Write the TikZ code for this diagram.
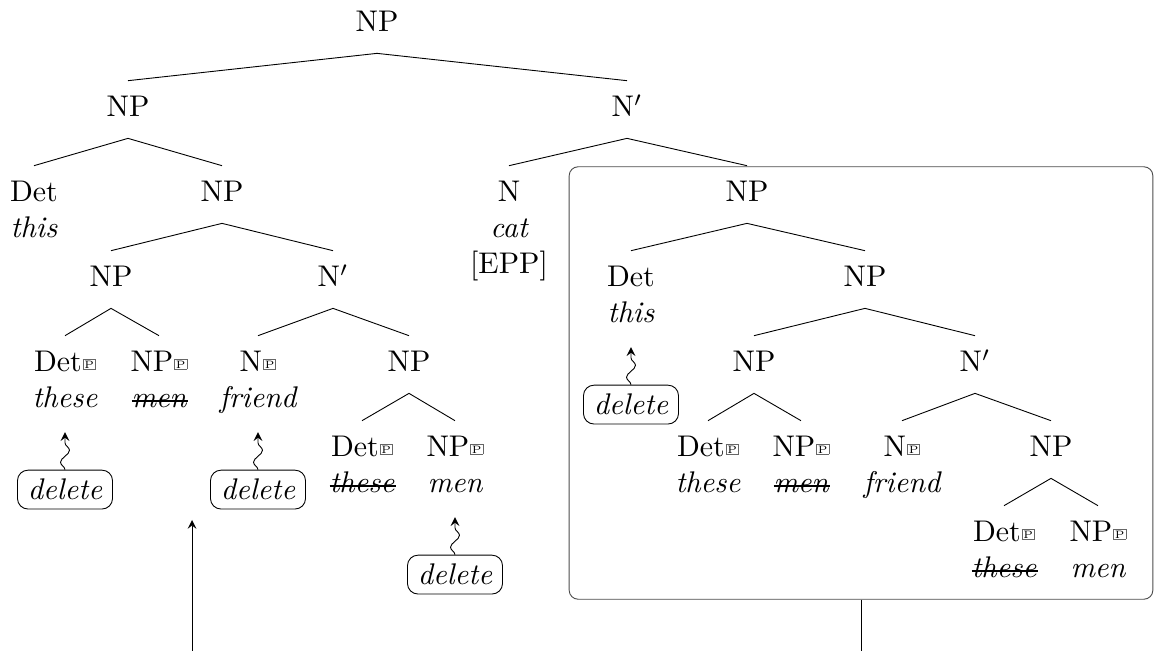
\documentclass[tikz,border=0pt]{standalone}
\usetikzlibrary{positioning,decorations.pathmorphing,arrows}
\newcommand{\pmark}{\kern0.3pt\raisebox{1.3pt}{\fboxsep=0.3pt\fboxrule=0.3pt\fcolorbox{black!60}{white}{\fontsize{3.6}{3.6}\selectfont P}}}
\tikzset{
    cat/.style={inner xsep=1pt, inner ysep=5pt, text height=7pt, text depth=2pt, anchor=base},
    word/.style={cat, font=\itshape},
    gone/.style={
        word,
        path picture = {
            \draw[line width=0.35pt]
            ([shift={(1pt,9.3pt)}]path picture bounding box.south west) --
            ([shift={(-0.5pt,9.3pt)}]path picture bounding box.south east);
        }
    },
    tag/.style={
        draw, rounded corners=3.5pt, font=\itshape,
        minimum height=13pt, inner xsep=3.5pt, inner ysep=0pt
    },
    zap/.style={
        -stealth, decorate,
        decoration={snake, amplitude=1.5pt, segment length=8pt, post length=3pt}
    },
    frame/.style={
        draw=black!70, rounded corners=3pt, inner sep=0pt,
        minimum width=195.3pt, minimum height=144.7pt
    }
}

\begin{document}
\begin{tikzpicture}[x=1.176cm, y=-1.176cm, line width=0.3pt]

  \path[use as bounding box, clip] (0,0) rectangle (11.57,6.51);

  \node[frame] (Z) at (8.61,3.83) {};

  \node[cat] (A) at (3.77,0.32) {NP};
  \node[cat] (B) at (1.28,1.17) {NP};
  \node[cat] (C) at (6.27,1.17) {N$'$};
  \node[cat] (D) at (0.34,2.02) {Det};
  \node[cat] (E) at (2.22,2.02) {NP};
  \node[cat] (F) at (5.09,2.02) {N};
  \node[cat] (G) at (7.47,2.02) {NP};
  \node[cat] (H) at (1.11,2.87) {NP};
  \node[cat] (I) at (3.33,2.87) {N$'$};
  \node[cat] (J) at (6.31,2.87) {Det};
  \node[cat] (K) at (8.65,2.87) {NP};
  \node[cat] (L) at (0.65,3.72) {Det\pmark};
  \node[cat] (M) at (1.59,3.72) {NP\pmark};
  \node[cat] (N) at (2.58,3.72) {N\pmark};
  \node[cat] (O) at (4.09,3.72) {NP};
  \node[cat] (P) at (7.54,3.72) {NP};
  \node[cat] (Q) at (9.75,3.72) {N$'$};
  \node[cat] (R) at (3.62,4.57) {Det\pmark};
  \node[cat] (S) at (4.55,4.57) {NP\pmark};
  \node[cat] (T) at (7.08,4.57) {Det\pmark};
  \node[cat] (U) at (8.01,4.57) {NP\pmark};
  \node[cat] (V) at (9.02,4.57) {N\pmark};
  \node[cat] (W) at (10.51,4.57) {NP};
  \node[cat] (X) at (10.04,5.42) {Det\pmark};
  \node[cat] (Y) at (10.98,5.42) {NP\pmark};

  % words under the leaves
  \node[word, below=12pt of D.base, anchor=base] (Dw) {this};
  \node[word, below=12pt of F.base, anchor=base] (Fw) {cat};
  \node[cat,  below=12pt of Fw.base, anchor=base] (Fx) {[EPP]};
  \node[word, below=12pt of J.base, anchor=base] (Jw) {this};
  \node[word, below=12pt of L.base, anchor=base] (Lw) {these};
  \node[gone, below=12pt of M.base, anchor=base] (Mw) {men};
  \node[word, below=12pt of N.base, anchor=base] (Nw) {friend};
  \node[gone, below=12pt of R.base, anchor=base] (Rw) {these};
  \node[word, below=12pt of S.base, anchor=base] (Sw) {men};
  \node[word, below=12pt of T.base, anchor=base] (Tw) {these};
  \node[gone, below=12pt of U.base, anchor=base] (Uw) {men};
  \node[word, below=12pt of V.base, anchor=base] (Vw) {friend};
  \node[gone, below=12pt of X.base, anchor=base] (Xw) {these};
  \node[word, below=12pt of Y.base, anchor=base] (Yw) {men};

  \foreach \p/\c in {A/B, A/C, B/D, B/E, C/F, C/G, E/H, E/I, G/J, G/K,
                     H/L, H/M, I/N, I/O, K/P, K/Q, O/R, O/S,
                     P/T, P/U, Q/V, Q/W, W/X, W/Y}
    \draw (\p.south) -- (\c.north);

  \node[tag, below=20.7pt of Lw.base] (del1) {delete};
  \node[tag, below=20.7pt of Nw.base] (del2) {delete};
  \node[tag, below=20.7pt of Sw.base] (del3) {delete};
  \node[tag, below=20.7pt of Jw.base] (del4) {delete};

  \draw[zap] (del1.north) -- ([yshift=-1pt]Lw.south);
  \draw[zap] (del2.north) -- ([yshift=-1pt]Nw.south);
  \draw[zap] (del3.north) -- ([yshift=-1pt]Sw.south);
  \draw[zap] (del4.north) -- ([yshift=-1pt]Jw.south);

  \coordinate (back) at (1.92,5.20);
  \draw[-stealth] (Z.south) -- ++(0,0.8) -| (back);

\end{tikzpicture}
\end{document}
